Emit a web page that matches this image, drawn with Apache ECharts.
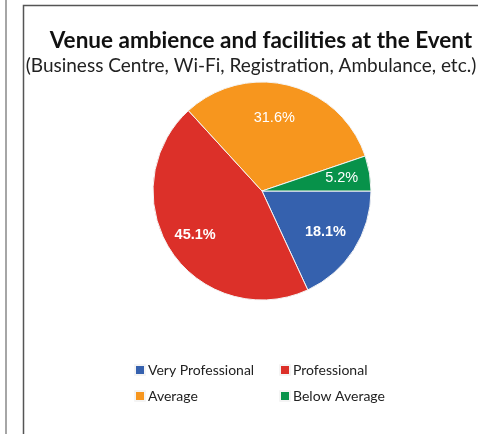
<!DOCTYPE html>
<html>
<head>
<meta charset="utf-8">
<script src="https://cdn.jsdelivr.net/npm/echarts@6/dist/echarts.min.js"></script>
<style>html,body{margin:0;padding:0;background:#fff;}#c{width:478px;height:434px;}</style>
</head>
<body>
<div id="c"></div>
<script>
const categories = ['Very Professional', 'Professional', 'Average', 'Below Average'];
const values = [18.1, 45.1, 31.6, 5.2];
const colors = ['#3561AE', '#DC3029', '#F7961E', '#07924A'];
const labelBold = [true, true, false, false];
const labelOffsets = [[15, 10], [-19, 12], [-2, -17], [23, -4]];

const chart = echarts.init(document.getElementById('c'), null, {renderer: 'canvas'});
const font = 'Lato, "Open Sans", sans-serif';
const legendPos = [[134, 362], [279, 362], [134, 388], [279, 388]];
const legends = categories.map((name, i) => ({
  data: [name], left: legendPos[i][0], top: legendPos[i][1], padding: 0,
  itemWidth: 10, itemHeight: 10, itemGap: 0, icon: 'rect', selectedMode: false,
  textStyle: {fontFamily: font, fontSize: 14, color: '#222', lineHeight: 16, padding: [0, 0, 0, -2]}
}));
chart.setOption({
  animation: false,
  color: colors,
  title: [{
    text: 'Venue ambience and facilities at the Event',
    left: 256, top: 24, textAlign: 'center',
    textStyle: {fontFamily: font, fontSize: 22.5, fontWeight: 'bold', color: '#111'}
  }, {
    text: '(Business Centre, Wi-Fi, Registration, Ambulance, etc.)',
    left: 246, top: 51, textAlign: 'center',
    textStyle: {fontFamily: font, fontSize: 19, fontWeight: 'normal', color: '#222'}
  }],
  legend: legends,
  graphic: [
    {type: 'line', shape: {x1: 6, y1: 0, x2: 6, y2: 434}, style: {stroke: '#888', lineWidth: 1.5}},
    {type: 'polyline', shape: {points: [[23.5, 434], [23.5, 5.5], [480, 5.5]]}, style: {stroke: '#555', lineWidth: 1.5, fill: null}}
  ],
  series: [{
    type: 'pie',
    center: [262, 191],
    radius: 109,
    startAngle: 0,
    clockwise: true,
    avoidLabelOverlap: false,
    itemStyle: {borderColor: '#f4f4f4', borderWidth: 1},
    label: {position: 'inside', color: '#fff', fontFamily: '"Liberation Sans", Arial, sans-serif', fontSize: 14.5},
    labelLine: {show: false},
    data: categories.map((name, i) => ({
      name, value: values[i],
      label: {formatter: values[i].toFixed(1) + '%', fontWeight: labelBold[i] ? 'bold' : 'normal', offset: labelOffsets[i]}
    }))
  }]
});
</script>
</body>
</html>
